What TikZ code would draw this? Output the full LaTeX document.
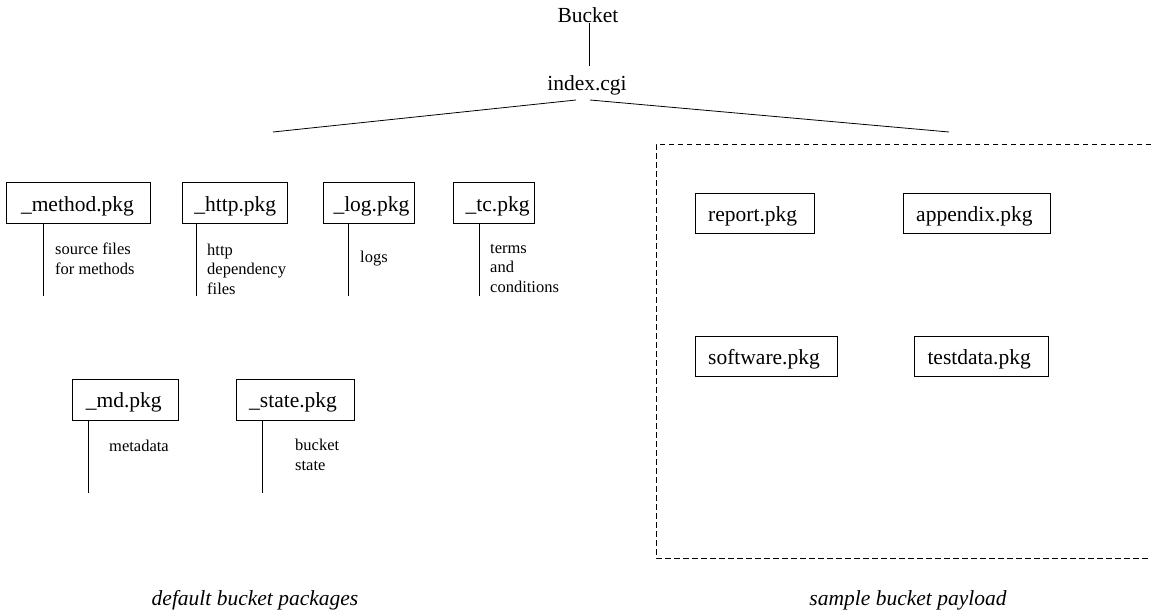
\documentclass[tikz,border=0pt]{standalone}
\usepackage{fontspec}
\setmainfont{Liberation Serif}
\begin{document}
\begin{tikzpicture}[x=1pt,y=-1pt,
  pkgbox/.style={draw, line width=0.8pt, inner sep=0pt, minimum height=40.5pt},
  pkgtext/.style={inner sep=0pt, anchor=base west, font=\fontsize{21.5}{25}\selectfont},
  big/.style={inner sep=0pt, font=\fontsize{21.5}{25}\selectfont},
  note/.style={inner sep=0pt, align=left, anchor=west, font=\fontsize{16.5}{19.5}\selectfont},
  grp/.style={inner sep=0pt, anchor=base, font=\fontsize{21.5}{25}\selectfont\itshape},
  conn/.style={line width=0.8pt},
  frame/.style={line width=0.8pt, dash pattern=on 5.5pt off 3.5pt}]
\useasboundingbox (0,0) rectangle (1151,610);

% root
\node[big, anchor=base] (bucket) at (588,23) {Bucket};
\node[big, anchor=base] (idx) at (587,90) {index.cgi};
\coordinate (ib) at (589,66);
\draw[conn] (bucket.base -| ib) -- (ib);

\coordinate (idxL) at (576,100);
\coordinate (idxR) at (590,100);
\coordinate (fanL) at (273,132);
\coordinate (fanR) at (949,132);
\draw[conn] (idxL) -- (fanL);
\draw[conn] (idxR) -- (fanR);

% default packages: boxes
\node[pkgbox, minimum width=144pt] (method) at (78,203) {};
\node[pkgbox, minimum width=105pt] (http) at (234.5,203) {};
\node[pkgbox, minimum width=91pt] (log) at (369,203) {};
\node[pkgbox, minimum width=81pt] (tc) at (494.2,203) {};
\node[pkgbox, minimum width=105.5pt] (md) at (125.5,399.7) {};
\node[pkgbox, minimum width=117.5pt] (state) at (295.4,399.7) {};
% default packages: names
\node[pkgtext] (methodT) at (20.8,211) {\_method.pkg};
\node[pkgtext] (httpT) at (194.2,211) {\_http.pkg};
\node[pkgtext] (logT) at (333.3,211) {\_log.pkg};
\node[pkgtext] (tcT) at (465.5,211) {\_tc.pkg};
\node[pkgtext] (mdT) at (85.6,407.5) {\_md.pkg};
\node[pkgtext] (stateT) at (249,407.5) {\_state.pkg};

\coordinate (methodE) at (43,296);
\coordinate (httpE) at (196,296);
\coordinate (logE) at (348,296);
\coordinate (tcE) at (479,296);
\coordinate (mdE) at (88,493);
\coordinate (stateE) at (262,493);
\draw[conn] (method.south -| methodE) -- (methodE);
\draw[conn] (http.south -| httpE) -- (httpE);
\draw[conn] (log.south -| logE) -- (logE);
\draw[conn] (tc.south -| tcE) -- (tcE);
\draw[conn] (md.south -| mdE) -- (mdE);
\draw[conn] (state.south -| stateE) -- (stateE);

\node[note] (methodN) at (55,259) {source files\\for methods};
\node[note] (httpN) at (207,269) {http\\dependency\\files};
\node[note] (logN) at (360,259) {logs};
\node[note] (tcN) at (490,268) {terms\\and\\conditions};
\node[note] (mdN) at (109,446) {metadata};
\node[note] (stateN) at (295,455) {bucket\\state};

% sample payload
\draw[frame] (1160,144) -| (656,558) -- (1160,558);
\node[pkgbox, minimum width=119pt] (report) at (754.5,213.5) {};
\node[pkgbox, minimum width=147pt] (appendix) at (976.5,213.5) {};
\node[pkgbox, minimum width=142pt] (software) at (766,356.5) {};
\node[pkgbox, minimum width=134pt] (testdata) at (981,356.5) {};
\node[pkgtext] (reportT) at (708,221) {report.pkg};
\node[pkgtext] (appendixT) at (916,221) {appendix.pkg};
\node[pkgtext] (softwareT) at (708,364) {software.pkg};
\node[pkgtext] (testdataT) at (927.3,364) {testdata.pkg};

% captions
\node[grp] (defcap) at (255,605) {default bucket packages};
\node[grp] (samplecap) at (908,605) {sample bucket payload};
\end{tikzpicture}
\end{document}
